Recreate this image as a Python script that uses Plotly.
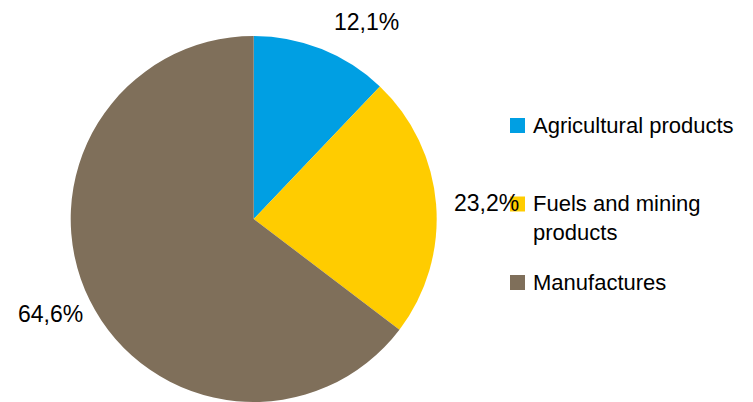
import plotly.graph_objects as go

# ---- data ----
labels = ["Agricultural products", "Fuels and mining products", "Manufactures"]
legend_text = ["Agricultural products", "Fuels and mining<br>products", "Manufactures"]
values = [12.1, 23.2, 64.6]
colors = ["#009FE3", "#FFCC00", "#7F6F5A"]

W, H = 753, 402
FONT = "Liberation Sans Narrow, Arial Narrow, Liberation Sans, Arial, sans-serif"
FS_LABEL = 23
FS_LEGEND = 22

def px(x):
    return x / W

def py(y):
    return 1 - y / H

fig = go.Figure(go.Pie(
    labels=labels,
    values=values,
    marker=dict(colors=colors, line=dict(width=0)),
    sort=False,
    direction="clockwise",
    rotation=0,
    textinfo="none",
    hoverinfo="label+percent",
    showlegend=False,
    domain=dict(x=[px(70.7), px(436.7)], y=[0, py(36)]),
))

# data labels (positions per label, text from values)
label_pos = [(366, 22.5), (486, 203), (50, 314)]
annotations = []
for v, (x, y) in zip(values, label_pos):
    annotations.append(dict(
        x=px(x), y=py(y), xref="paper", yref="paper",
        text=f"{v:.1f}%".replace(".", ","), showarrow=False,
        xanchor="center", yanchor="middle",
        font=dict(family=FONT, size=FS_LABEL, color="#000000"),
    ))

# legend (drawn manually to match spacing)
legend_rows = [125.5, 204, 282.5]
shapes = []
for txt, col, y in zip(legend_text, colors, legend_rows):
    shapes.append(dict(
        type="rect", xref="paper", yref="paper",
        x0=px(510), x1=px(525), y0=py(y - 7.5), y1=py(y + 7.5),
        fillcolor=col, line=dict(width=0),
    ))
    annotations.append(dict(
        x=px(531), y=py(y - 0.68 * FS_LEGEND), xref="paper", yref="paper",
        text=txt, showarrow=False, align="left",
        xanchor="left", yanchor="top",
        font=dict(family=FONT, size=FS_LEGEND, color="#000000"),
    ))

fig.update_layout(
    width=W, height=H,
    margin=dict(l=0, r=0, t=0, b=0),
    paper_bgcolor="white", plot_bgcolor="white",
    annotations=annotations,
    shapes=shapes,
    showlegend=False,
)

fig.write_html(
    "out.html",
    config={"displayModeBar": False},
    post_script="document.body.style.margin='0';",
)
